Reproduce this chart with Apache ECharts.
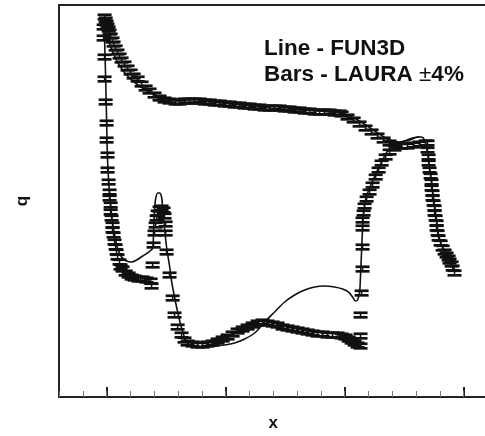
<!DOCTYPE html>
<html>
<head>
<meta charset="utf-8">
<script src="https://cdn.jsdelivr.net/npm/echarts@6/dist/echarts.min.js"></script>
<style>
  html, body { margin: 0; padding: 0; background: #fff; }
  #main { width: 485px; height: 436px; }
</style>
</head>
<body>
<div id="main"></div>
<script>
// LAURA points (bars), one array pair per stretch of the curve
var lauraTopX = [-0.017,-0.008,0.000,0.008,0.017,0.025,0.034,0.050,0.059,0.076,
  0.092,0.109,0.126,0.151,0.176,0.202,0.227,0.261,0.294,0.328,
  0.361,0.403,0.445,0.487,0.529,0.580,0.613,0.655,0.697,0.739,
  0.782,0.824,0.866,0.908,0.950,0.992,1.034,1.076,1.118,1.160,
  1.202,1.244,1.286,1.328,1.370,1.412,1.454,1.496,1.538,1.580,
  1.622,1.664,1.706,1.748,1.790,1.832,1.874,1.916,1.958,1.975,
  2.025,2.076,2.126,2.176,2.227,2.277,2.328,2.378,2.429,2.479,
  2.529,2.580,2.630,2.681]
var lauraTopQ = [809.3,767.6,728.1,690.6,655.0,621.3,579.0,539.6,502.9,468.6,
  436.8,407.0,379.3,353.5,329.4,307.0,286.1,271.4,248.5,231.6,
  219.7,204.7,194.2,187.5,184.2,181.0,181.0,184.2,184.2,184.2,
  184.2,181.0,181.0,177.8,177.8,174.7,174.7,171.6,171.6,168.6,
  168.6,165.7,165.7,162.8,162.8,162.8,162.8,160.0,160.0,157.2,
  157.2,154.4,154.4,151.7,151.7,151.7,151.7,149.1,149.1,146.5,
  138.9,131.8,122.8,114.4,106.7,99.4,92.64,87.87,84.82,83.34,
  83.34,84.82,86.33,87.87]

var lauraLeftX = [-0.025,-0.025,-0.017,-0.017,-0.008,0.000,0.000,0.008,0.008,0.017,
  0.025,0.025,0.034,0.034,0.042,0.050,0.050,0.059,0.067,0.076,
  0.084,0.092,0.109,0.118,0.134,0.160,0.185,0.210,0.235,0.269,
  0.303,0.336,0.370,0.378]
var lauraLeftQ = [678.5,558.9,399.9,271.4,181.0,125.0,92.64,71.12,54.60,44.19,
  37.05,33.34,29.47,26.05,23.43,20.72,18.97,17.37,15.35,14.06,
  12.87,11.79,10.79,9.883,9.540,8.891,8.583,8.286,8.141,7.999,
  7.999,7.859,7.722,7.071]

var lauraPeakX = [0.387,0.395,0.403,0.412,0.420,0.429,0.445,0.462,0.479,0.487,
  0.496,0.496,0.504,0.529,0.555,0.571,0.597,0.630,0.655]
var lauraPeakQ = [10.24,14.56,17.99,20.72,23.43,25.59,27.46,27.95,26.98,24.28,
  21.08,17.99,12.87,8.583,5.724,4.242,3.433,2.982,2.730]

var lauraBottomX = [0.681,0.723,0.765,0.807,0.849,0.891,0.933,0.975,1.017,1.059,
  1.101,1.143,1.185,1.227,1.269,1.311,1.353,1.395,1.437,1.479,
  1.521,1.563,1.605,1.647,1.689,1.731,1.773,1.815,1.857,1.899,
  1.941,1.975,2.008,2.034,2.059,2.084,2.109,2.134]
var lauraBottomQ = [2.590,2.545,2.500,2.500,2.545,2.590,2.683,2.779,2.879,3.035,
  3.200,3.314,3.433,3.556,3.684,3.750,3.684,3.620,3.556,3.433,
  3.373,3.314,3.256,3.200,3.144,3.089,3.035,3.035,2.982,2.982,
  2.982,2.930,2.879,2.779,2.683,2.590,2.500,2.456]

var lauraRiseX = [2.134,2.134,2.143,2.151,2.151,2.151,2.151,2.160,2.168,2.185,
  2.210,2.235,2.261,2.286,2.311,2.345,2.378,2.420,2.462]
var lauraRiseQ = [2.930,4.242,6.250,9.540,14.06,19.65,22.62,25.59,28.95,32.75,
  37.05,41.92,48.26,54.60,61.77,68.66,74.98,80.46,83.34]

var lauraRightX = [2.697,2.697,2.706,2.706,2.714,2.723,2.731,2.731,2.739,2.739,
  2.748,2.756,2.756,2.765,2.773,2.773,2.782,2.790,2.807,2.824,
  2.840,2.857,2.874,2.882,2.899,2.908,2.924]
var lauraRightQ = [87.87,77.67,68.66,61.77,54.60,49.12,44.19,39.76,36.41,33.34,
  30.53,27.95,25.59,23.43,21.46,19.65,17.99,16.47,15.08,13.81,
  12.87,12.21,11.58,10.98,10.42,9.710,8.891]

// FUN3D line, two pieces
var fun3dUpperX = [-0.025,-0.008,0.017,0.050,0.101,0.168,0.252,0.345,0.445,0.546,
  0.697,0.866,1.118,1.370,1.622,1.874,2.000,2.126,2.252,2.378,
  2.462,2.546,2.613,2.647,2.672,2.689,2.706,2.723,2.739,2.756,
  2.773,2.790,2.815,2.857,2.891,2.924]
var fun3dUpperQ = [795.1,666.7,539.6,436.8,353.5,291.2,248.5,219.7,197.6,184.2,
  184.2,181.0,171.6,162.8,157.2,151.7,146.5,129.5,108.6,92.64,
  89.43,92.64,97.67,97.67,92.64,80.46,65.12,49.99,38.38,29.47,
  22.62,17.37,14.56,12.43,10.79,9.540]

var fun3dLowerX = [-0.025,-0.017,-0.008,0.000,0.008,0.025,0.042,0.067,0.092,0.126,
  0.168,0.210,0.252,0.303,0.353,0.387,0.395,0.403,0.412,0.429,
  0.445,0.462,0.471,0.487,0.504,0.529,0.546,0.571,0.597,0.630,
  0.664,0.697,0.748,0.824,0.908,0.992,1.076,1.160,1.244,1.328,
  1.412,1.496,1.580,1.664,1.748,1.832,1.916,1.983,2.034,2.067,
  2.092,2.109,2.126,2.134,2.143,2.151,2.160,2.176,2.202,2.235,
  2.277,2.319,2.361,2.420,2.504,2.571,2.630]
var fun3dLowerQ = [795.1,539.6,271.4,131.8,65.12,35.15,24.71,17.37,13.81,11.79,
  10.98,10.79,11.18,12.00,12.87,13.81,18.97,26.98,32.75,36.41,
  36.41,33.93,27.95,19.65,14.06,10.06,7.722,5.825,4.472,3.373,
  2.730,2.500,2.414,2.414,2.456,2.500,2.590,2.779,3.089,3.750,
  4.472,5.334,6.034,6.590,6.947,7.071,6.947,6.707,6.361,5.825,
  5.429,5.525,6.361,8.583,13.33,19.65,26.05,32.18,38.38,44.98,
  54.60,65.12,76.31,84.82,91.02,95.96,97.67]

var majorTicks = [0, 1, 2, 3]
var lauraErr = 0.04

function pairs (xs, ys) {
  var out = []
  for (var i = 0; i < xs.length; i++) out.push([xs[i], ys[i]])
  return out
}

var lauraData = [].concat(
  pairs(lauraTopX, lauraTopQ),
  pairs(lauraLeftX, lauraLeftQ),
  pairs(lauraPeakX, lauraPeakQ),
  pairs(lauraBottomX, lauraBottomQ),
  pairs(lauraRiseX, lauraRiseQ),
  pairs(lauraRightX, lauraRightQ)
)

var font = 'Liberation Sans, Arial, Helvetica, sans-serif'
var ink = '#111'

// error bar: stem from q-4% to q+4% with a cap at each end
function renderBar (params, api) {
  var x = api.value(0)
  var q = api.value(1)
  var hi = api.coord([x, q * (1 + lauraErr)])
  var lo = api.coord([x, q * (1 - lauraErr)])
  var w = 7
  var st = { stroke: ink, lineWidth: 2.7 }
  return {
    type: 'group',
    children: [
      { type: 'line', shape: { x1: hi[0], y1: hi[1], x2: lo[0], y2: lo[1] }, style: { stroke: ink, lineWidth: 1.5 } },
      { type: 'line', shape: { x1: hi[0] - w, y1: hi[1], x2: hi[0] + w, y2: hi[1] }, style: st },
      { type: 'line', shape: { x1: lo[0] - w, y1: lo[1], x2: lo[0] + w, y2: lo[1] }, style: st }
    ]
  }
}

var myChart = echarts.init(document.querySelector('#main'))

var option = {
  animation: false,
  backgroundColor: '#fff',
  title: {
    left: 259,
    top: 31,
    text: '{b|Line - FUN3D}\n{b|Bars - LAURA }{n|±}{b|4%}',
    textStyle: {
      rich: {
        b: { fontFamily: font, fontSize: 22.5, fontWeight: 'bold', color: ink, lineHeight: 26 },
        n: { fontFamily: font, fontSize: 22.5, fontWeight: 'normal', color: ink, lineHeight: 26 }
      }
    }
  },
  grid: {
    left: 59,
    top: 5,
    width: 428.4,
    height: 392,
    outerBoundsMode: 'none',
    containLabel: false,
    show: true,
    borderColor: '#222',
    borderWidth: 2,
    backgroundColor: 'transparent'
  },
  xAxis: [
    {
      type: 'value',
      min: -0.4,
      max: 3.2,
      position: 'bottom',
      name: 'x',
      nameLocation: 'middle',
      nameGap: 18,
      nameTextStyle: { fontFamily: font, fontSize: 17, fontWeight: 'bold', color: ink },
      axisLine: { show: true, lineStyle: { color: '#222', width: 2 } },
      axisTick: { show: true, inside: true, length: 10, customValues: majorTicks, lineStyle: { color: '#222', width: 2 } },
      axisLabel: { show: false },
      splitLine: { show: false }
    },
    {
      type: 'value',
      min: -0.4,
      max: 3.2,
      interval: 0.2,
      position: 'bottom',
      axisLine: { show: false },
      axisTick: { show: true, inside: true, length: 6, lineStyle: { color: '#777', width: 1 } },
      axisLabel: { show: false },
      splitLine: { show: false }
    }
  ],
  yAxis: {
    type: 'log',
    logBase: 10,
    min: 1,
    max: 1000,
    name: 'q',
    nameLocation: 'middle',
    nameRotate: 90,
    nameGap: 28,
    nameTextStyle: { fontFamily: font, fontSize: 17, fontWeight: 'bold', color: ink },
    axisLine: { show: false },
    axisTick: { show: false },
    axisLabel: { show: false },
    splitLine: { show: false }
  },
  series: [
    {
      name: 'LAURA',
      type: 'custom',
      xAxisIndex: 0,
      renderItem: renderBar,
      data: lauraData,
      z: 3
    },
    {
      name: 'FUN3D',
      type: 'line',
      xAxisIndex: 0,
      data: pairs(fun3dUpperX, fun3dUpperQ),
      showSymbol: false,
      smooth: 0.3,
      lineStyle: { color: ink, width: 1.6 },
      z: 4
    },
    {
      name: 'FUN3D',
      type: 'line',
      xAxisIndex: 0,
      data: pairs(fun3dLowerX, fun3dLowerQ),
      showSymbol: false,
      smooth: 0.3,
      lineStyle: { color: ink, width: 1.6 },
      z: 4
    }
  ]
}

myChart.setOption(option)
</script>
</body>
</html>
